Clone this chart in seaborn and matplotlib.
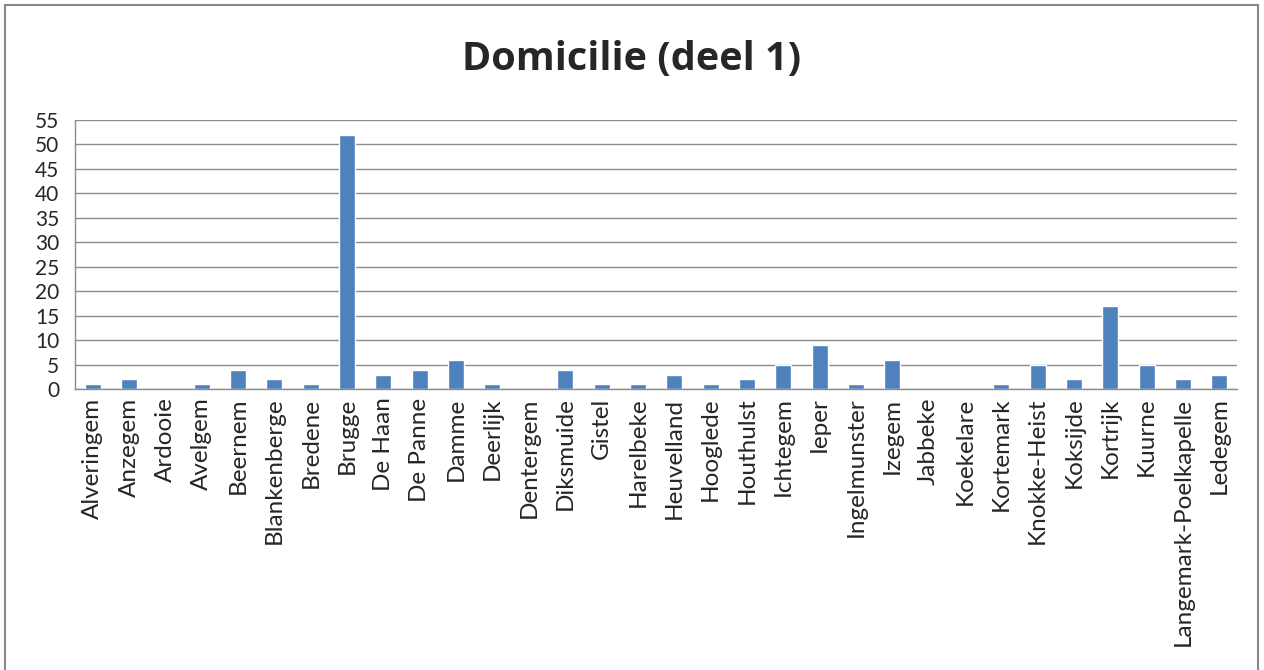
import numpy as np
import pandas as pd
import matplotlib
matplotlib.use('Agg')
import matplotlib.pyplot as plt
from matplotlib.patches import Rectangle
from matplotlib.ticker import MultipleLocator, FixedLocator
import seaborn as sns

# Dane
gemeenten = ['Alveringem', 'Anzegem', 'Ardooie', 'Avelgem', 'Beernem', 'Blankenberge',
             'Bredene', 'Brugge', 'De Haan', 'De Panne', 'Damme', 'Deerlijk', 'Dentergem',
             'Diksmuide', 'Gistel', 'Harelbeke', 'Heuvelland', 'Hooglede', 'Houthulst',
             'Ichtegem', 'Ieper', 'Ingelmunster', 'Izegem', 'Jabbeke', 'Koekelare',
             'Kortemark', 'Knokke-Heist', 'Koksijde', 'Kortrijk', 'Kuurne',
             'Langemark-Poelkapelle', 'Ledegem']
aantal = [1, 2, 0, 1, 4, 2, 1, 52, 3, 4, 6, 1, 0, 4, 1, 1, 3, 1, 2, 5, 9, 1, 6, 0, 0,
          1, 5, 2, 17, 5, 2, 3]

df = pd.DataFrame({'Gemeente': gemeenten, 'Aantal': aantal})

sns.set_style('white')
plt.rcParams['font.family'] = ['Lato', 'DejaVu Sans']

fig = plt.figure(figsize=(12.64, 6.7), dpi=100)
ax = fig.add_axes([0.059, 0.419, 0.920, 0.402])

sns.barplot(data=df, x='Gemeente', y='Aantal', color='#4F81BD', width=0.44,
            saturation=1, ax=ax)

grid_col = '#8c8c8c'
ax.set_ylim(0, 55)
ax.set_xlim(-0.5, len(gemeenten) - 0.5)
ax.yaxis.set_major_locator(MultipleLocator(5))
ax.grid(axis='y', color=grid_col, linewidth=1)
ax.set_axisbelow(True)

for s in ['top', 'right']:
    ax.spines[s].set_visible(False)
for s in ['left', 'bottom']:
    ax.spines[s].set_color(grid_col)
    ax.spines[s].set_linewidth(1)

ax.tick_params(axis='y', length=7, color=grid_col, labelsize=15, pad=4)
ax.tick_params(axis='x', which='major', length=0, labelsize=17.5, pad=6)
ax.set_xticks(range(len(gemeenten)))
ax.set_xticklabels(gemeenten, rotation=90)
ax.xaxis.set_minor_locator(FixedLocator(np.arange(-0.5, len(gemeenten), 1)))
ax.tick_params(axis='x', which='minor', length=7, color=grid_col)

ax.set_xlabel('')
ax.set_ylabel('')
fig.suptitle('Domicilie (deel 1)', fontsize=28.5, fontweight='bold', y=0.94,
             family=['Open Sans', 'DejaVu Sans'])

# Rand rond de grafiek
fig.patches.append(Rectangle((0.004, -0.01), 0.991, 1.003, transform=fig.transFigure,
                             fill=False, edgecolor='#888888', linewidth=1.5))

fig.savefig('out.png', dpi=100)
